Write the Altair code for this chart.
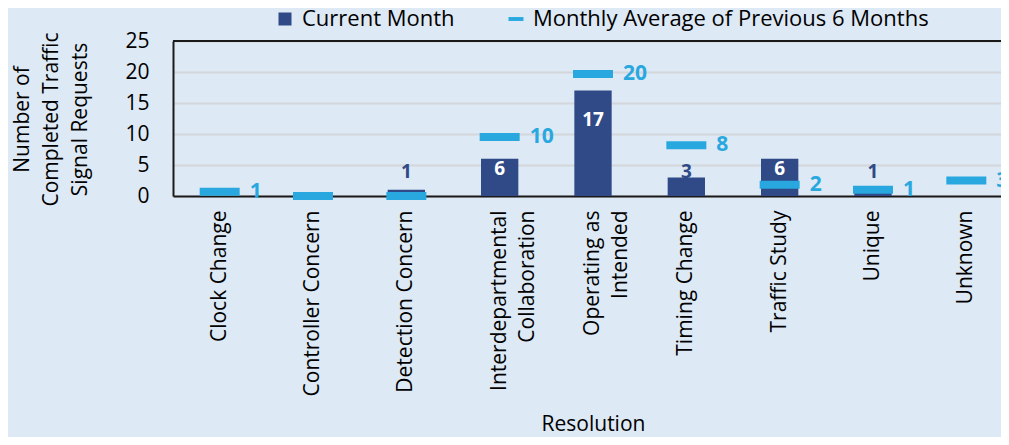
import altair as alt
import pandas as pd

categories = ["Clock Change", "Controller Concern", "Detection Concern",
              "Interdepartmental Collaboration", "Operating as Intended",
              "Timing Change", "Traffic Study", "Unique", "Unknown"]
current_month = [0, 0, 1, 6, 17, 3, 6, 1, 0]
avg_prev6 = [0.67, 0, 0, 9.5, 19.67, 8.17, 1.83, 1.0, 2.5]
series_names = ["Current Month", "Monthly Average of Previous 6 Months"]
y_ticks = [0, 5, 10, 15, 20, 25]

NAVY = "#2f4a87"
LIGHT = "#29a8e0"
BG = "#dde9f5"
FONT = "Open Sans"

df = pd.DataFrame({"cat": categories, "cur": current_month, "avg": avg_prev6})
leg_df = pd.DataFrame({"series": series_names})

label_expr = ("datum.label == 'Interdepartmental Collaboration' ? ['Interdepartmental', 'Collaboration'] : "
              "datum.label == 'Operating as Intended' ? ['Operating as', 'Intended'] : datum.label")

x_scale = alt.Scale(domain=categories, range=[0, 840], paddingInner=0.6, paddingOuter=0.3)
x_axis = alt.Axis(title="Resolution", labelAngle=-90, labelExpr=label_expr,
                  labelFontSize=21, labelFont=FONT, labelColor="#000000",
                  labelLineHeight=28, labelPadding=14, ticks=False,
                  domainColor="#1a1a1a", domainWidth=2,
                  titleFont=FONT, titleFontSize=21, titleFontWeight="normal",
                  titleColor="#000000", titleBaseline="alphabetic", titleY=234,
                  titleX=420, titleAlign="center",
                  labelLimit=300)
y_scale = alt.Scale(domain=[0, 25], nice=False)
y_axis = alt.Axis(values=y_ticks, title=["Number of", "Completed Traffic", "Signal Requests"],
                  titleAngle=-90, titleBaseline="top", titleAlign="center",
                  titleX=-162, titleY=78, titleLineHeight=29,
                  titleFont=FONT, titleFontSize=21, titleFontWeight="normal", titleColor="#000000",
                  labelFont=FONT, labelFontSize=21, labelColor="#000000", labelPadding=24,
                  labelOverlap=False,
                  ticks=False, domainColor="#1a1a1a", domainWidth=2,
                  grid=True, gridColor="#d3d6da", gridWidth=2)


def X(axis=True):
    return alt.X("cat:N", sort=categories, scale=x_scale, axis=x_axis if axis else None)


def Y(field, axis=False):
    return alt.Y(field, type="quantitative", scale=y_scale, axis=y_axis if axis else None)


base = alt.Chart(df)

bars = base.mark_bar(color=NAVY).encode(x=X(), y=Y("cur", axis=True))

ticks = base.mark_tick(color=LIGHT, thickness=8, size=40, orient="horizontal", opacity=1).encode(
    x=X(False), y=Y("avg"))

cur_labels = base.transform_filter("datum.cur > 0").transform_calculate(
    ly="datum.cur >= 5 ? datum.cur * 0.72 : max(datum.cur, 3)",
).mark_text(font=FONT, fontSize=19, fontWeight="bold", baseline="middle").encode(
    x=X(False),
    y=Y("ly"),
    text=alt.Text("cur:Q", format="d"),
    color=alt.condition("datum.cur >= 5", alt.value("#ffffff"), alt.value(NAVY)),
)
cur_small = cur_labels.transform_filter("datum.cur < 5").mark_text(
    font=FONT, fontSize=19, fontWeight="bold", baseline="middle", dy=-5)
cur_big = cur_labels.transform_filter("datum.cur >= 5")

avg_labels = base.transform_filter("datum.avg > 0").transform_calculate(
    albl="format(round(datum.avg), 'd')"
).mark_text(font=FONT, fontSize=21, fontWeight="bold", align="left", baseline="middle",
            dx=30, color=LIGHT).encode(
    x=X(False), y=Y("avg"), text="albl:N")

top_rule = base.transform_calculate(top="25").mark_rule(color="#1a1a1a", strokeWidth=2).encode(
    y=Y("top"))

legend_pts = alt.Chart(leg_df).mark_point(filled=True, opacity=0, size=169).encode(
    x=alt.value(0), y=alt.value(0),
    color=alt.Color("series:N", sort=series_names,
                    scale=alt.Scale(domain=series_names, range=[NAVY, LIGHT]),
                    legend=alt.Legend(title=None, orient="none", direction="horizontal",
                                      legendX=101, legendY=-33, padding=0,
                                      labelFont=FONT, labelFontSize=22, labelColor="#000000",
                                      labelOffset=6, columnPadding=50, symbolOpacity=1,
                                      symbolSize=169,
                                      symbolStrokeWidth=0, labelLimit=600)),
    shape=alt.Shape("series:N", sort=series_names,
                    scale=alt.Scale(domain=series_names,
                                    range=["square", "M-1.15,-0.3H1.15V0.3H-1.15Z"]),
                    legend=None),
)

chart = alt.layer(bars, ticks, cur_small, cur_big, avg_labels, top_rule, legend_pts).resolve_axis(
    x="independent", y="independent"
).properties(
    width=828, height=155,
    autosize=alt.AutoSizeParams(type="none"),
    padding={"left": 165, "top": 33, "right": 0, "bottom": 241},
    background=BG,
).configure_view(stroke=None)

chart.save("out.html", embed_options={"renderer": "svg", "actions": False})
